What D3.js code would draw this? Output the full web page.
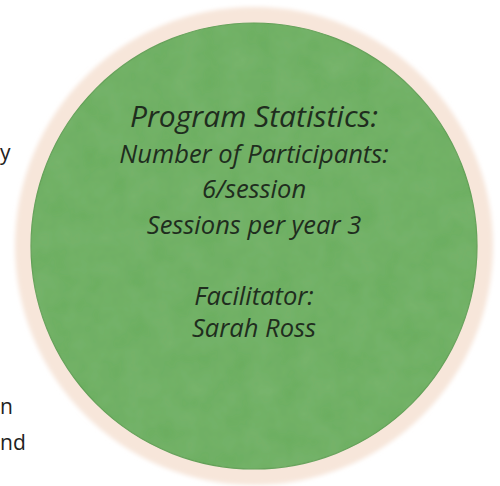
<!DOCTYPE html>
<html>
<head>
<meta charset="utf-8">
<script src="https://cdn.jsdelivr.net/npm/d3@7"></script>
<style>
  html, body { margin: 0; padding: 0; background: #fff; }
  svg { display: block; }
</style>
</head>
<body>
<div id="chart"></div>
<script>
// text content of the badge
const titleLine = "Program Statistics:";
const statLines = ["Number of Participants:", "6/session", "Sessions per year 3"];
const creditLines = ["Facilitator:", "Sarah Ross"];
// cut-off words from the neighbouring column on the left
const sideWords = ["y", "n", "nd"];

const width = 500, height = 486;
const cx = 254, cy = 246, r = 223;

const svg = d3.select("#chart").append("svg")
    .attr("width", width)
    .attr("height", height);

const defs = svg.append("defs");

// soft blur for the beige halo
defs.append("filter")
    .attr("id", "halo")
    .attr("x", "-20%").attr("y", "-20%")
    .attr("width", "140%").attr("height", "140%")
    .append("feGaussianBlur")
    .attr("stdDeviation", 2);

// light paper grain on the green
const grain = defs.append("filter").attr("id", "grain");
grain.append("feTurbulence")
    .attr("type", "fractalNoise")
    .attr("baseFrequency", 0.04)
    .attr("numOctaves", 3)
    .attr("seed", 4)
    .attr("result", "noise");
grain.append("feColorMatrix")
    .attr("in", "noise")
    .attr("type", "matrix")
    .attr("values", "0 0 0 0 0.44  0 0 0 0 0.70  0 0 0 0 0.38  0 0 0 0.15 0")
    .attr("result", "tint");
grain.append("feComposite")
    .attr("in", "tint")
    .attr("in2", "SourceGraphic")
    .attr("operator", "in")
    .attr("result", "t2");
grain.append("feMerge").selectAll("feMergeNode")
    .data(["SourceGraphic", "t2"])
    .enter().append("feMergeNode")
    .attr("in", d => d);

// beige halo
svg.append("circle")
    .attr("cx", cx).attr("cy", cy)
    .attr("r", r + 16)
    .attr("fill", "#f7e6da")
    .attr("filter", "url(#halo)");

// green disc
svg.append("circle")
    .attr("cx", cx).attr("cy", cy)
    .attr("r", r)
    .attr("fill", "#6bad5e")
    .attr("stroke", "#5e9d53")
    .attr("stroke-width", 1.2)
    .attr("filter", "url(#grain)");

const font = "'Open Sans', 'DejaVu Sans', sans-serif";
const ink = "#1f2d1e";

// baselines: stats block then credit block
const statY = d3.scaleLinear().domain([0, 3]).range([127, 234]);
const creditY = d3.scaleLinear().domain([0, 1]).range([305, 337]);

const rows = [{ text: titleLine, size: 30, y: statY(0) }]
    .concat(statLines.map((t, i) => ({ text: t, size: 25.5, y: statY(i + 1) })))
    .concat(creditLines.map((t, i) => ({ text: t, size: 25.5, y: creditY(i) })));

svg.append("g")
    .selectAll("text")
    .data(rows)
    .enter().append("text")
    .attr("x", cx)
    .attr("y", d => d.y)
    .attr("text-anchor", "middle")
    .attr("font-family", font)
    .attr("font-style", "italic")
    .attr("font-size", d => d.size)
    .attr("fill", ink)
    .text(d => d.text);

// side words at the left edge
const sideY = [160, 414, 450];
svg.append("g")
    .selectAll("text")
    .data(sideWords)
    .enter().append("text")
    .attr("x", 0)
    .attr("y", (d, i) => sideY[i])
    .attr("font-family", font)
    .attr("font-size", 21)
    .attr("fill", "#222")
    .text(d => d);
</script>
</body>
</html>
